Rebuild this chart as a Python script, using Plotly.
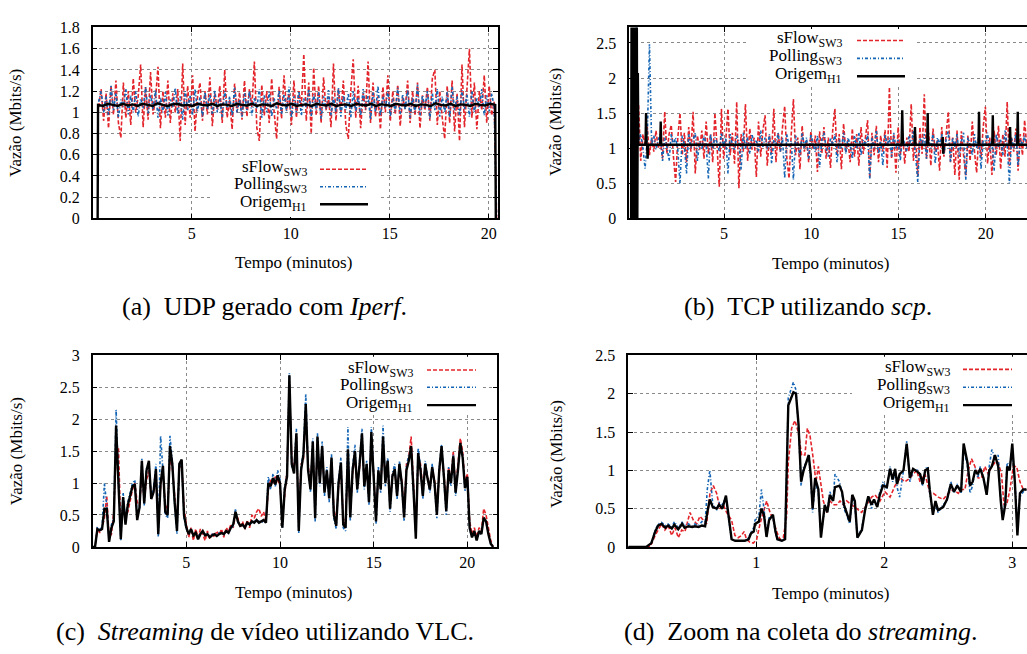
import numpy as np
import plotly.graph_objects as go

# ---------------- data ----------------
# (a) UDP / Iperf
sflow_a = [
    1.05, 1.22, 0.92, 1.18, 0.85, 1.25, 0.98, 1.3, 0.9, 0.76, 1.28, 0.95, 1.2, 0.88, 1.32, 1.0, 1.15, 1.45, 0.86, 1.24,
    0.93, 1.38, 0.98, 1.12, 1.43, 0.85, 1.2, 0.95, 1.3, 0.9, 1.18, 1.0, 1.22, 0.73, 1.46, 0.88, 1.25, 0.95, 1.35, 0.82,
    1.15, 1.28, 0.92, 1.2, 0.98, 1.33, 0.87, 1.18, 1.02, 1.25, 0.9, 1.4, 0.95, 1.12, 0.84, 1.27, 1.0, 1.19, 0.93, 1.3,
    0.96, 1.22, 1.05, 1.48, 0.85, 0.73, 1.26, 0.97, 1.2, 0.9, 1.32, 1.0, 0.75, 1.24, 0.94, 1.35, 1.02, 1.18, 0.88, 1.3,
    0.95, 1.2, 1.05, 1.55, 0.92, 1.28, 0.8, 1.42, 0.97, 1.25, 0.9, 1.33, 1.02, 1.15, 0.86, 1.46, 0.92, 1.22, 1.0, 1.3,
    0.88, 0.75, 1.2, 1.5, 0.95, 1.25, 0.85, 1.18, 1.02, 1.48, 0.9, 1.28, 0.96, 1.15, 0.84, 1.24, 1.0, 1.35, 0.92, 1.2,
    0.98, 1.26, 0.87, 1.14, 1.03, 1.3, 0.9, 1.2, 0.97, 1.28, 0.85, 1.16, 1.02, 1.24, 0.92, 1.32, 1.4, 0.88, 1.2, 0.95,
    0.75, 1.25, 0.9, 1.3, 0.82, 1.18, 0.73, 1.45, 0.86, 1.22, 1.6, 0.95, 1.28, 0.84, 1.2, 1.02, 1.35, 0.9, 1.25, 0.97,
    1.1, 0.0]
polling_a = [
    1.1, 1.2, 1.0, 1.15, 0.97, 1.25, 1.02, 1.18, 0.95, 1.12, 1.05, 1.22, 0.98, 1.16, 1.0, 1.2, 0.96, 1.13, 1.04, 1.24,
    0.99, 1.17, 1.03, 1.21, 0.95, 1.14, 1.0, 1.19, 0.97, 1.12, 1.05, 1.23, 0.98, 1.15, 0.93, 1.2, 1.02, 1.16, 0.97, 1.22,
    1.01, 1.14, 0.96, 1.19, 1.03, 1.17, 0.98, 1.21, 1.0, 1.13, 0.95, 1.2, 1.04, 1.15, 0.97, 1.23, 1.0, 1.12, 0.96, 1.18,
    1.02, 1.2, 0.97, 1.14, 1.04, 1.22, 0.95, 1.16, 1.0, 1.19, 0.96, 1.13, 1.03, 1.21, 0.98, 1.17, 1.01, 1.24, 0.95, 1.15,
    1.0, 1.2, 0.97, 1.13, 1.05, 1.22, 0.96, 1.17, 1.02, 1.19, 0.94, 1.15, 1.03, 1.21, 0.97, 1.14, 1.0, 1.23, 0.96, 1.16,
    1.02, 1.18, 0.95, 1.2, 1.01, 1.14, 0.97, 1.22, 1.03, 1.16, 0.93, 1.19, 1.0, 1.25, 0.97, 1.15, 1.04, 1.2, 0.96, 1.13,
    1.01, 1.23, 0.98, 1.17, 1.03, 1.21, 0.95, 1.14, 1.0, 1.26, 0.97, 1.16, 1.04, 1.2, 0.94, 1.18, 1.02, 1.22, 0.96, 1.15,
    1.0, 1.19, 0.95, 1.24, 1.02, 1.15, 0.97, 1.21, 1.03, 1.17, 0.96, 1.2, 1.0, 1.14, 1.04, 1.22, 0.97, 1.16, 1.01, 1.18,
    1.05, 0.0]
origem_a = [
    0.0,
    1.07, 1.06, 1.08, 1.07, 1.06, 1.08, 1.065, 1.075, 1.06, 1.08,
    1.07, 1.06, 1.085, 1.07, 1.06, 1.075, 1.08, 1.065, 1.07, 1.06,
    1.08, 1.07, 1.065, 1.08, 1.06, 1.075, 1.07, 1.06, 1.08, 1.07,
    1.065, 1.08, 1.06, 1.075, 1.07, 1.06, 1.085, 1.07, 1.065, 1.08,
    1.06, 1.07, 1.075, 1.06, 1.08, 1.07, 1.065, 1.08, 1.06, 1.07,
    1.075, 1.06, 1.08, 1.07, 1.065, 1.08, 1.06, 1.075, 1.07, 1.06,
    1.08, 1.07, 1.065, 1.08, 1.06, 1.075, 1.07, 1.06, 1.085, 1.07,
    1.065, 1.08, 1.06, 1.075, 1.07, 1.06, 1.08, 1.07, 1.065, 1.08,
    1.07,
    0.0]

# (b) TCP / scp
sflow_b = [
    1.61, 0.82, 1.2, 1.05, 1.3, 0.9, 1.15, 0.95, 1.25, 1.0, 1.1, 0.85, 1.52, 0.92, 1.2, 1.33, 0.88, 0.52, 1.15, 1.5,
    0.9, 1.22, 0.8, 1.3, 0.95, 1.52, 0.64, 1.18, 0.98, 1.25, 0.85, 1.38, 0.92, 1.2, 0.8, 1.5, 1.02, 0.45, 1.56, 0.85,
    1.12, 1.56, 0.9, 1.22, 0.78, 1.66, 0.43, 1.2, 0.95, 1.63, 0.82, 1.28, 0.98, 1.15, 0.59, 1.38, 0.88, 1.25, 1.47, 0.75,
    1.18, 0.92, 1.56, 0.8, 1.22, 0.95, 1.3, 1.6, 0.85, 0.57, 1.2, 1.7, 0.9, 1.15, 0.7, 1.32, 0.95, 1.1, 0.8, 1.24,
    0.98, 1.18, 0.66, 1.24, 0.92, 1.3, 0.85, 1.15, 0.72, 1.25, 1.56, 0.9, 1.2, 0.7, 1.35, 0.95, 1.12, 0.8, 1.28, 0.88,
    1.2, 0.75, 1.3, 0.92, 1.15, 1.4, 0.57, 1.22, 0.9, 1.32, 0.8, 1.18, 0.95, 1.26, 0.72, 1.87, 0.85, 1.2, 0.65, 1.3,
    0.9, 1.24, 0.78, 1.15, 0.95, 1.63, 0.82, 1.2, 0.6, 1.3, 0.92, 1.77, 0.85, 1.22, 0.75, 1.28, 0.95, 1.12, 0.68, 1.3,
    0.88, 1.2, 1.52, 0.8, 1.15, 0.62, 1.25, 0.55, 1.24, 0.9, 0.6, 1.18, 0.82, 1.38, 0.95, 0.65, 1.2, 0.85, 1.3, 1.59,
    0.78, 1.15, 0.62, 1.25, 0.9, 1.32, 0.7, 1.2, 0.88, 1.66, 0.75, 1.15, 0.95, 1.28, 0.68, 1.2, 0.9, 1.4, 1.0]
polling_b = [
    2.75, 1.1, 1.2, 1.0, 0.71, 1.15, 2.48, 1.05, 1.18, 0.98, 1.12, 1.2, 0.82, 1.15, 1.02, 0.82, 1.2, 1.05, 1.15, 0.98,
    0.5, 1.18, 1.05, 0.64, 1.2, 1.0, 1.12, 1.22, 0.82, 1.1, 0.98, 1.18, 1.05, 0.57, 1.2, 1.0, 1.15, 1.08, 0.95, 1.22,
    1.02, 1.15, 0.64, 1.2, 1.05, 0.98, 1.18, 1.1, 0.69, 1.22, 1.0, 1.15, 0.92, 1.2, 1.05, 1.12, 0.95, 1.25, 1.02, 1.15,
    0.98, 1.2, 0.78, 1.12, 1.05, 1.22, 0.95, 1.15, 0.57, 1.2, 1.02, 1.1, 0.55, 1.18, 1.05, 0.9, 1.22, 1.0, 1.15, 0.85,
    1.2, 1.05, 0.95, 1.18, 0.73, 1.12, 1.22, 1.0, 0.88, 1.15, 1.05, 1.2, 0.8, 1.12, 1.0, 1.22, 0.92, 1.15, 1.05, 0.85,
    1.18, 1.0, 1.22, 0.9, 1.12, 1.05, 1.2, 0.57, 1.15, 1.0, 1.25, 0.92, 1.1, 0.75, 1.2, 1.05, 1.15, 0.88, 1.22, 1.0,
    1.12, 0.82, 1.2, 1.05, 0.95, 1.18, 1.02, 1.25, 0.9, 0.52, 1.15, 1.05, 1.2, 0.85, 1.12, 1.0, 1.22, 0.78, 1.15, 1.05,
    1.2, 0.92, 1.12, 1.25, 0.8, 1.15, 1.02, 1.2, 0.88, 1.1, 1.22, 0.55, 1.15, 1.05, 0.9, 1.2, 1.0, 1.18, 0.7, 1.12,
    1.05, 1.22, 0.95, 1.15, 0.68, 1.2, 1.02, 1.12, 0.9, 1.25, 1.05, 0.5, 1.15, 1.0, 1.2, 0.75, 1.12, 1.05, 1.18, 1.0]
t_origem_b = [-0.33, -0.3, -0.27, -0.24, -0.21, -0.18, -0.15, -0.12, -0.09, -0.06, -0.03, 0.0, 0.03, 0.06, 0.09,
              0.5, 0.53, 0.56, 0.59, 0.62, 0.65, 1.34, 1.37, 1.4, 3.0, 5.0, 7.0, 9.0, 11.0, 13.0,
              15.17, 15.21, 15.25, 15.91, 15.94, 15.97, 16.64, 16.67, 16.7, 17.5, 17.53, 17.56, 17.59,
              19.58, 19.61, 19.64, 20.37, 20.4, 20.43, 21.36, 21.39, 21.42, 21.8, 21.83, 21.86, 22.5]
origem_b = [0.0, 2.9, 0.0, 2.9, 0.0, 2.9, 0.0, 2.9, 0.0, 2.9, 0.0, 2.9, 0.0, 2.07, 1.05,
            1.05, 1.5, 1.05, 1.05, 0.85, 1.05, 1.05, 1.38, 1.05, 1.05, 1.05, 1.05, 1.05, 1.05, 1.05,
            1.05, 1.54, 1.05, 1.05, 1.3, 1.05, 1.05, 1.5, 1.05, 1.05, 1.16, 0.92, 1.05,
            1.05, 1.52, 1.05, 1.05, 1.47, 1.05, 1.05, 1.3, 1.05, 1.05, 1.52, 1.05, 1.05]

# (c) streaming VLC (sampled every 0.125 min)
origem_c = [
    0, 0, 0.28, 0.26, 0.28, 0.6, 0.6, 0.08, 0.3, 0.4,
    1.9, 1.0, 0.12, 0.78, 0.35, 0.66, 0.8, 0.95, 0.98, 0.42,
    0.62, 1.35, 0.68, 1.2, 1.35, 0.75, 0.86, 1.22, 0.2, 1.0,
    1.27, 0.55, 0.5, 1.58, 1.3, 0.7, 0.25, 1.3, 1.37, 0.5,
    0.3, 0.2, 0.28, 0.18, 0.22, 0.12, 0.2, 0.25, 0.18, 0.2,
    0.15, 0.18, 0.2, 0.17, 0.2, 0.22, 0.2, 0.25, 0.22, 0.3,
    0.35, 0.55, 0.4, 0.33, 0.35, 0.3, 0.38, 0.35, 0.4, 0.38,
    0.42, 0.38, 0.4, 0.42, 0.38, 1.0, 0.95, 1.08, 0.98, 1.12,
    1.0, 0.3, 0.9, 1.1, 2.69, 1.3, 1.15, 1.78, 0.25, 1.2,
    1.45, 2.24, 1.2, 0.9, 1.65, 0.45, 1.73, 1.0, 1.58, 0.85,
    1.2, 0.76, 1.4, 0.5, 0.33, 1.0, 1.32, 0.35, 0.3, 1.53,
    0.46, 1.2, 1.5, 0.9, 1.3, 1.78, 0.95, 1.3, 0.7, 1.8,
    1.1, 0.4, 1.2, 0.9, 1.73, 1.0, 1.35, 0.6, 1.1, 1.22,
    0.8, 1.3, 1.0, 0.46, 1.2, 1.35, 1.58, 0.9, 0.13, 1.47,
    1.2, 0.8, 1.3, 1.07, 0.9, 1.25, 1.0, 0.5, 1.2, 1.58,
    1.1, 0.56, 1.2, 1.0, 1.42, 0.85, 1.2, 1.63, 1.4, 0.92,
    1.1, 0.3, 0.15, 0.25, 0.1, 0.25, 0.2, 0.46, 0.4, 0.2,
    0.05, 0]
sflow_c = [
    0, 0, 0.3, 0.22, 0.3, 0.45, 0.8, 0.15, 0.2, 0.55,
    1.5, 1.55, 0.3, 0.6, 0.5, 0.55, 0.72, 0.9, 1.0, 0.7,
    0.65, 1.15, 0.75, 1.05, 1.2, 0.8, 0.9, 1.1, 0.35, 0.95,
    1.2, 0.65, 0.6, 1.4, 1.25, 0.8, 0.35, 1.2, 1.3, 0.6,
    0.35, 0.15, 0.3, 0.1, 0.28, 0.15, 0.28, 0.2, 0.1, 0.25,
    0.12, 0.22, 0.15, 0.25, 0.18, 0.28, 0.15, 0.3, 0.25, 0.35,
    0.3, 0.5, 0.45, 0.3, 0.4, 0.28, 0.42, 0.3, 0.5, 0.45,
    0.55, 0.6, 0.48, 0.55, 0.4, 0.9, 1.05, 1.0, 1.1, 1.05,
    0.95, 0.45, 0.8, 1.2, 2.55, 1.4, 1.2, 1.7, 0.35, 1.3,
    1.35, 2.1, 1.3, 0.95, 1.55, 0.55, 1.65, 1.05, 1.5, 0.9,
    1.15, 0.85, 1.3, 0.6, 0.4, 0.95, 1.25, 0.45, 0.35, 1.45,
    0.55, 1.15, 1.42, 0.95, 1.25, 1.7, 1.0, 1.25, 0.75, 1.72,
    1.15, 0.5, 1.1, 0.95, 1.65, 1.05, 1.3, 0.65, 1.15, 1.18,
    0.85, 1.25, 1.05, 0.55, 1.3, 1.4, 1.73, 1.0, 0.25, 1.4,
    1.3, 0.9, 1.25, 1.1, 0.95, 1.2, 1.05, 0.6, 1.15, 1.5,
    1.15, 0.65, 1.25, 1.05, 1.5, 0.9, 1.3, 1.7, 1.5, 1.0,
    1.15, 0.4, 0.2, 0.3, 0.15, 0.3, 0.25, 0.6, 0.5, 0.3,
    0.1, 0]
polling_c = [
    0, 0, 0.3, 0.28, 0.3, 1.0, 0.65, 0.1, 0.35, 0.45,
    2.15, 1.05, 0.1, 0.85, 0.4, 0.7, 0.85, 1.0, 1.05, 0.45,
    0.6, 1.38, 0.65, 1.25, 1.3, 0.78, 0.9, 1.3, 0.15, 1.74,
    1.2, 0.5, 0.45, 1.74, 1.35, 0.65, 0.2, 1.25, 1.3, 0.45,
    0.28, 0.22, 0.25, 0.2, 0.2, 0.15, 0.22, 0.22, 0.2, 0.18,
    0.17, 0.2, 0.18, 0.2, 0.22, 0.2, 0.22, 0.23, 0.25, 0.28,
    0.33, 0.6, 0.38, 0.35, 0.33, 0.32, 0.36, 0.37, 0.38, 0.4,
    0.4, 0.4, 0.38, 0.4, 0.4, 1.1, 0.9, 1.15, 0.95, 1.2,
    1.05, 0.3, 0.95, 1.15, 2.72, 1.25, 1.2, 1.85, 0.22, 1.25,
    1.5, 2.4, 1.25, 0.85, 1.7, 0.4, 1.78, 0.95, 1.65, 0.8,
    1.25, 0.7, 1.45, 0.45, 0.28, 1.05, 1.4, 0.3, 0.25, 1.88,
    0.4, 1.25, 1.6, 0.85, 1.35, 1.85, 0.9, 1.35, 0.65, 1.88,
    1.15, 0.35, 1.25, 0.85, 1.9, 0.95, 1.4, 0.55, 1.15, 1.3,
    0.75, 1.35, 0.95, 0.4, 1.25, 1.45, 1.5, 0.85, 0.2, 1.55,
    1.25, 0.75, 1.35, 1.1, 0.85, 1.3, 0.95, 0.45, 1.25, 1.6,
    1.05, 0.5, 1.25, 0.95, 1.45, 0.8, 1.25, 1.55, 1.45, 0.88,
    1.05, 0.28, 0.15, 0.22, 0.1, 0.22, 0.2, 0.45, 0.38, 0.2,
    0.05, 0]

# (d) zoom on the first minutes of the streaming
t_origem_d = [
    0, 0.14, 0.18, 0.21, 0.234, 0.26, 0.29, 0.31, 0.34, 0.36, 0.39, 0.42, 0.44, 0.47, 0.5,
    0.52, 0.55, 0.575, 0.6, 0.617, 0.637, 0.66, 0.69, 0.71, 0.735, 0.763, 0.78, 0.807, 0.835, 0.873,
    0.91, 0.94, 0.96, 0.98, 0.99, 1.02, 1.04, 1.06, 1.08, 1.1, 1.13, 1.15, 1.165, 1.2, 1.225,
    1.25, 1.29, 1.31, 1.33, 1.35, 1.37, 1.41, 1.425, 1.44, 1.46, 1.485, 1.505, 1.535, 1.555, 1.575,
    1.6, 1.615, 1.65, 1.67, 1.685, 1.705, 1.73, 1.75, 1.77, 1.79, 1.825, 1.85, 1.875, 1.9, 1.92,
    1.945, 1.965, 1.99, 2.02, 2.045, 2.065, 2.085, 2.1, 2.12, 2.15, 2.175, 2.2, 2.225, 2.26, 2.28,
    2.3, 2.32, 2.34, 2.355, 2.38, 2.4, 2.42, 2.46, 2.49, 2.52, 2.545, 2.57, 2.6, 2.62, 2.65,
    2.67, 2.69, 2.71, 2.73, 2.75, 2.775, 2.8, 2.82, 2.84, 2.865, 2.89, 2.91, 2.925, 2.945, 2.96,
    2.98, 3.0, 3.02, 3.04, 3.06, 3.085, 3.11]
origem_d = [
    0, 0, 0.05, 0.2, 0.28, 0.3, 0.25, 0.28, 0.24, 0.29, 0.23, 0.3, 0.25, 0.27, 0.26,
    0.27, 0.26, 0.28, 0.27, 0.45, 0.62, 0.52, 0.5, 0.55, 0.5, 0.67, 0.45, 0.1, 0.08, 0.08,
    0.08, 0.1, 0.18, 0.2, 0.3, 0.33, 0.5, 0.42, 0.13, 0.35, 0.42, 0.2, 0.1, 0.08, 0.1,
    1.85, 2.02, 2.0, 1.6, 0.85, 1.0, 1.2, 0.95, 0.5, 0.9, 0.75, 0.12, 0.55, 0.45, 0.68,
    0.6, 0.78, 0.8, 0.72, 0.55, 0.45, 0.33, 0.68, 0.6, 0.12, 0.22, 0.48, 0.66, 0.55, 0.62,
    0.52, 0.68, 0.8, 0.78, 1.02, 0.88, 1.02, 0.82, 0.95, 1.0, 1.35, 0.9, 1.02, 0.98, 0.95,
    0.82, 1.0, 1.02, 0.75, 0.42, 0.6, 0.48, 0.52, 0.62, 0.82, 0.72, 0.8, 0.72, 1.35, 1.1,
    0.8, 0.85, 1.0, 0.95, 1.02, 0.9, 0.68, 1.0, 1.05, 1.2, 1.05, 0.6, 0.35, 0.55, 1.05,
    1.0, 1.35, 0.85, 0.15, 0.7, 0.75, 0.75]
polling_d = [
    0, 0, 0.05, 0.22, 0.3, 0.32, 0.28, 0.3, 0.26, 0.33, 0.25, 0.32, 0.28, 0.3, 0.27,
    0.3, 0.28, 0.33, 0.3, 0.75, 1.0, 0.55, 0.48, 0.58, 0.55, 0.65, 0.4, 0.1, 0.08, 0.08,
    0.08, 0.12, 0.2, 0.25, 0.35, 0.4, 0.75, 0.5, 0.15, 0.38, 0.4, 0.18, 0.1, 0.08, 0.12,
    1.95, 2.15, 2.05, 1.55, 0.8, 1.05, 1.15, 0.9, 0.45, 0.85, 0.7, 0.15, 0.5, 0.5, 0.72,
    0.62, 0.95, 0.85, 0.7, 0.5, 0.42, 0.3, 0.65, 0.55, 0.12, 0.25, 0.5, 0.65, 0.5, 0.6,
    0.55, 0.72, 0.85, 0.75, 1.05, 0.85, 0.98, 0.78, 0.65, 1.0, 1.38, 0.85, 1.0, 1.0, 0.92,
    0.8, 1.02, 1.05, 0.7, 0.45, 0.55, 0.45, 0.55, 0.6, 0.85, 0.7, 0.82, 0.7, 1.3, 1.05,
    0.7, 0.8, 1.02, 0.9, 1.05, 0.88, 0.7, 1.05, 1.27, 1.15, 1.2, 0.6, 0.4, 0.6, 1.1,
    1.05, 1.3, 0.85, 0.3, 0.65, 0.72, 0.75]
t_sflow_d = [
    0, 0.17, 0.21, 0.26, 0.286, 0.312, 0.339, 0.365, 0.391, 0.417, 0.443, 0.482, 0.508, 0.534, 0.56,
    0.586, 0.612, 0.638, 0.664, 0.69, 0.716, 0.742, 0.768, 0.807, 0.833, 0.859, 0.885, 0.904, 0.924, 0.95,
    0.977, 1.003, 1.029, 1.055, 1.081, 1.107, 1.133, 1.159, 1.185, 1.211, 1.237, 1.25, 1.276, 1.302, 1.328,
    1.354, 1.38, 1.399, 1.42, 1.445, 1.466, 1.485, 1.498, 1.524, 1.55, 1.576, 1.602, 1.628, 1.654, 1.68,
    1.706, 1.745, 1.784, 1.823, 1.862, 1.901, 1.927, 1.966, 2.005, 2.045, 2.084, 2.123, 2.162, 2.201, 2.227,
    2.253, 2.279, 2.318, 2.357, 2.383, 2.422, 2.461, 2.5, 2.539, 2.578, 2.604, 2.63, 2.656, 2.682, 2.708,
    2.734, 2.76, 2.786, 2.812, 2.838, 2.864, 2.89, 2.916, 2.935, 2.956, 2.982, 3.008, 3.034, 3.06, 3.086,
    3.112]
sflow_d = [
    0, 0, 0.15, 0.3, 0.22, 0.28, 0.15, 0.25, 0.12, 0.22, 0.2, 0.45, 0.35, 0.3, 0.4,
    0.35, 0.3, 0.7, 0.8, 0.7, 0.5, 0.55, 0.45, 0.35, 0.15, 0.12, 0.15, 0.2, 0.1, 0.06,
    0.05, 0.1, 0.3, 0.45, 0.6, 0.45, 0.35, 0.2, 0.1, 0.12, 0.4, 1.1, 1.55, 1.65, 1.5,
    1.2, 1.2, 1.55, 1.45, 1.15, 0.85, 1.05, 0.9, 0.6, 0.45, 0.6, 0.55, 0.55, 0.6, 0.55,
    0.6, 0.55, 0.5, 0.45, 0.55, 0.65, 0.68, 0.6, 0.72, 0.65, 0.8, 0.9, 0.85, 0.9, 0.95,
    1.0, 0.85, 0.95, 0.7, 0.7, 0.65, 0.62, 0.7, 0.75, 0.7, 0.75, 0.75, 1.0, 1.15, 1.05,
    0.9, 0.9, 1.05, 0.95, 1.05, 1.1, 1.1, 0.95, 0.55, 0.55, 0.75, 1.05, 1.05, 0.85, 0.75,
    0.75]

# ---------------- sample times ----------------
t_sflow_a = np.linspace(0.3, 20.4, len(sflow_a))
t_polling_a = np.linspace(0.3, 20.4, len(polling_a))
t_origem_a = np.concatenate([[0.25], np.linspace(0.27, 20.33, len(origem_a) - 2), [20.36]])
t_sflow_b = np.linspace(0.1, 22.35, len(sflow_b))
t_polling_b = np.linspace(-0.025, 22.35, len(polling_b))
t_c = np.arange(len(origem_c)) * 0.125

# ---------------- styling ----------------
RED = "#e3242b"
BLUE = "#1565b5"
FONT = "Liberation Serif, Times New Roman, serif"
W, H = 1027, 654
RED_DASH = "4px,2px"
BLUE_DASH = "3px,2px,1px,2px"


def fx(px):
    return px / W


def fy(py):
    return 1 - py / H


panels = [
    dict(n="", box=(92.7, 498.0, 20.0, 216.0), xr=[0, 20.47], yr=[0, 1.8], xt=[5, 10, 15, 20], dy=0.2, right=True),
    dict(n="2", box=(629.3, 1027.0, 20.0, 216.0), xr=[-0.43, 22.36], yr=[0, 2.72], xt=[5, 10, 15, 20], dy=0.5, right=False),
    dict(n="3", box=(92.7, 497.3, 356.7, 553.3), xr=[0, 21.6], yr=[0, 3.0], xt=[5, 10, 15, 20], dy=0.5, right=True),
    dict(n="4", box=(628.3, 1027.0, 356.7, 553.3), xr=[0, 3.115], yr=[0, 2.5], xt=[1, 2, 3], dy=0.5, right=False),
]

series = [
    [(t_sflow_a, sflow_a), (t_polling_a, polling_a), (t_origem_a, origem_a)],
    [(t_sflow_b, sflow_b), (t_polling_b, polling_b), (t_origem_b, origem_b)],
    [(t_c, sflow_c), (t_c, polling_c), (t_c, origem_c)],
    [(t_sflow_d, sflow_d), (t_origem_d, polling_d), (t_origem_d, origem_d)],
]

fig = go.Figure()
layout = dict(
    width=W, height=H, margin=dict(l=0, r=0, t=0, b=0),
    paper_bgcolor="white", plot_bgcolor="white", showlegend=False,
    font=dict(family=FONT, size=16, color="black"),
)

styles = [
    dict(color=RED, width=1.6, dash=RED_DASH),
    dict(color=BLUE, width=1.6, dash=BLUE_DASH),
    dict(color="black", width=2.4, dash="solid"),
]
names = ["sFlow<sub>SW3</sub>", "Polling<sub>SW3</sub>", "Origem<sub>H1</sub>"]

for p, ser in zip(panels, series):
    l, r, t, b = p["box"]
    xa, ya = "x" + p["n"], "y" + p["n"]
    common = dict(showline=True, linecolor="black", linewidth=1.5, ticks="inside", ticklen=5,
                  tickcolor="black", tickwidth=1, showgrid=True, gridcolor="#8a8a8a", griddash="dot",
                  gridwidth=1, zeroline=False, tickfont=dict(family=FONT, size=16, color="black"),
                  fixedrange=True)
    layout["xaxis" + p["n"]] = dict(domain=[fx(l), fx(r)], range=p["xr"], tickvals=p["xt"],
                                    anchor=ya, mirror="ticks", **common)
    layout["yaxis" + p["n"]] = dict(domain=[fy(b), fy(t)], range=p["yr"], tick0=0, dtick=p["dy"],
                                    anchor=xa, mirror="ticks" if p["right"] else False,
                                    ticklabelstandoff=8, **common)
    for (tt, vv), st, nm in zip(ser, styles, names):
        fig.add_trace(go.Scatter(x=list(tt), y=vv, mode="lines", name=nm, line=dict(simplify=False, **st),
                                 xaxis=xa, yaxis=ya, hoverinfo="skip"))

fig.update_layout(**layout)

# ---------------- legends (gnuplot style: text then sample) ----------------
legends = [
    # white box (l, r, t, b) px, text right px, sample x0, x1 px, row y px
    ((210, 380, 152, 214.5), 309, 320, 368, (165.5, 183.5, 201.5)),
    ((747, 915, 21.5, 80), 844, 857, 905, (33.3, 51.7, 70.0)),
    ((315, 483, 358, 415), 415, 427, 476, (371.7, 389.3, 407.7)),
    ((852, 1027, 358, 416), 952, 963, 1012, (371.0, 389.3, 407.7)),
]
for bx, tr, s0, s1, rows in legends:
    fig.add_shape(type="rect", xref="paper", yref="paper",
                  x0=fx(bx[0]), x1=fx(bx[1]), y0=fy(bx[3]), y1=fy(bx[2]),
                  fillcolor="white", line=dict(width=0), layer="above")
    for ry, st, nm in zip(rows, styles, names):
        fig.add_shape(type="line", xref="paper", yref="paper", x0=fx(s0), x1=fx(s1), y0=fy(ry), y1=fy(ry),
                      line=dict(color=st["color"], width=st["width"], dash=st["dash"]), layer="above")
        fig.add_annotation(text=nm, xref="paper", yref="paper", x=fx(tr), y=fy(ry - 1.5),
                           xanchor="right", yanchor="middle", showarrow=False,
                           font=dict(family=FONT, size=17, color="black"))

# ---------------- axis titles and captions ----------------
ytitles = [(16, 118), (556, 117), (16, 455), (556, 458)]
for x, y in ytitles:
    fig.add_annotation(text="Vazão (Mbits/s)", xref="paper", yref="paper", x=fx(x), y=fy(y),
                       textangle=-90, showarrow=False, xanchor="center", yanchor="middle",
                       font=dict(family=FONT, size=17, color="black"))
xtitles = [(293, 261), (830, 262), (293, 600), (830, 601)]
for x, y in xtitles:
    fig.add_annotation(text="Tempo (minutos)", xref="paper", yref="paper", x=fx(x), y=fy(y),
                       showarrow=False, xanchor="center", yanchor="middle",
                       font=dict(family=FONT, size=17, color="black"))
captions = [
    ("(a)\u00a0\u00a0UDP gerado com <i>Iperf</i>.", 264, 306),
    ("(b)\u00a0\u00a0TCP utilizando <i>scp</i>.", 808, 306),
    ("(c)\u00a0\u00a0<i>Streaming</i> de vídeo utilizando VLC.", 265, 640),
    ("(d)\u00a0\u00a0Zoom na coleta do <i>streaming</i>.", 801, 640),
]
for txt, x, y in captions:
    fig.add_annotation(text=txt, xref="paper", yref="paper", x=fx(x), y=fy(y), showarrow=False,
                       xanchor="center", yanchor="middle", font=dict(family=FONT, size=26, color="black"))

# remove the browser's default page margin so the figure sits at the window's top-left corner
fig.write_html("out.html", config={"displayModeBar": False},
               post_script="document.body.style.margin='0px';")
